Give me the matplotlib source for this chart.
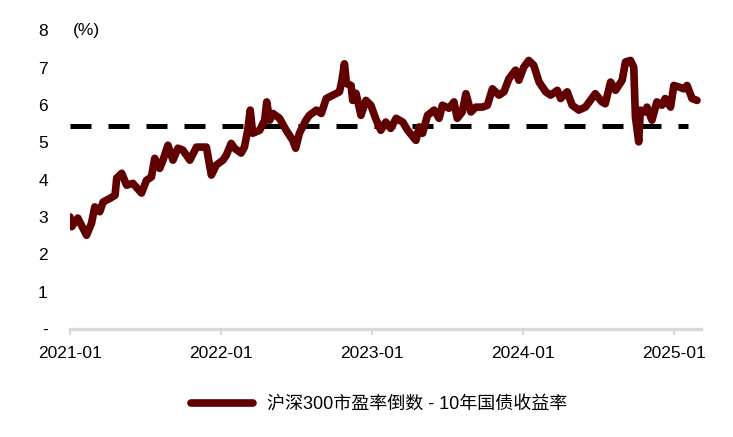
import matplotlib
matplotlib.use('Agg')
import matplotlib.pyplot as plt
import matplotlib.dates as mdates
import numpy as np
import pandas as pd

plt.rcParams['font.family'] = ['Liberation Sans', 'Noto Sans CJK SC', 'DejaVu Sans']

# 沪深300市盈率倒数 - 10年国债收益率 (%)
dates = pd.to_datetime([
    '2021-01-01', '2021-01-05', '2021-01-20', '2021-02-10', '2021-02-22', '2021-03-02',
    '2021-03-14', '2021-03-22', '2021-04-08', '2021-04-20', '2021-04-24', '2021-05-06',
    '2021-05-18', '2021-06-02', '2021-06-23', '2021-07-05', '2021-07-17', '2021-07-25',
    '2021-08-06', '2021-08-14', '2021-08-26', '2021-09-07', '2021-09-19', '2021-10-01',
    '2021-10-18', '2021-11-03', '2021-11-27', '2021-12-09', '2021-12-21', '2022-01-06',
    '2022-01-14', '2022-01-26', '2022-02-03', '2022-02-19', '2022-02-27', '2022-03-07',
    '2022-03-13', '2022-03-19', '2022-04-05', '2022-04-17', '2022-04-22', '2022-04-29',
    '2022-05-07', '2022-05-23', '2022-06-08', '2022-06-24', '2022-07-01', '2022-07-10',
    '2022-07-26', '2022-08-03', '2022-08-20', '2022-09-01', '2022-09-13', '2022-09-29',
    '2022-10-15', '2022-10-21', '2022-10-27', '2022-11-01', '2022-11-12', '2022-11-16',
    '2022-11-24', '2022-12-06', '2022-12-18', '2022-12-30', '2023-01-11', '2023-01-23',
    '2023-02-04', '2023-02-16', '2023-03-01', '2023-03-17', '2023-03-29', '2023-04-18',
    '2023-04-26', '2023-05-04', '2023-05-16', '2023-06-01', '2023-06-13', '2023-06-21',
    '2023-07-07', '2023-07-19', '2023-07-27', '2023-08-08', '2023-08-17', '2023-08-29',
    '2023-09-10', '2023-09-26', '2023-10-08', '2023-10-20', '2023-11-05', '2023-11-17',
    '2023-11-29', '2023-12-15', '2023-12-23', '2024-01-04', '2024-01-16', '2024-01-28',
    '2024-02-10', '2024-02-26', '2024-03-09', '2024-03-25', '2024-04-02', '2024-04-18',
    '2024-04-30', '2024-05-16', '2024-06-01', '2024-06-25', '2024-07-11', '2024-07-19',
    '2024-08-01', '2024-08-13', '2024-08-29', '2024-09-06', '2024-09-18', '2024-09-26',
    '2024-09-30', '2024-10-08', '2024-10-12', '2024-10-24', '2024-10-28', '2024-11-09',
    '2024-11-21', '2024-12-03', '2024-12-11', '2024-12-24', '2025-01-01', '2025-01-13',
    '2025-01-25', '2025-02-02', '2025-02-14', '2025-02-26'])
spread = [
    3.00, 2.74, 2.97, 2.51, 2.83, 3.27, 3.14, 3.40, 3.50, 3.58, 4.04, 4.17,
    3.85, 3.90, 3.64, 3.98, 4.07, 4.57, 4.30, 4.52, 4.92, 4.52, 4.84, 4.79,
    4.52, 4.87, 4.87, 4.12, 4.39, 4.52, 4.65, 4.97, 4.84, 4.71, 4.87, 5.32,
    5.86, 5.24, 5.32, 5.59, 6.08, 5.59, 5.77, 5.64, 5.32, 5.05, 4.84, 5.24,
    5.59, 5.72, 5.86, 5.77, 6.17, 6.26, 6.35, 6.66, 7.10, 6.57, 6.52, 6.12,
    6.31, 5.72, 6.12, 5.99, 5.62, 5.32, 5.54, 5.37, 5.64, 5.54, 5.32, 5.05,
    5.41, 5.24, 5.72, 5.86, 5.64, 5.99, 5.91, 6.08, 5.64, 5.81, 6.30, 5.81,
    5.94, 5.94, 5.99, 6.43, 6.26, 6.35, 6.70, 6.93, 6.66, 7.01, 7.19, 7.06,
    6.61, 6.35, 6.26, 6.39, 6.17, 6.35, 5.99, 5.86, 5.94, 6.30, 6.08, 6.03,
    6.61, 6.39, 6.66, 7.15, 7.19, 7.01, 5.68, 5.01, 5.86, 5.81, 5.94, 5.59,
    6.08, 5.99, 6.17, 5.94, 6.52, 6.48, 6.43, 6.52, 6.17, 6.12]
mean_level = 5.43

yticks = [0, 1, 2, 3, 4, 5, 6, 7, 8]
ytick_labels = ['-', '1', '2', '3', '4', '5', '6', '7', '8']
xtick_dates = pd.to_datetime(['2021-01-01', '2022-01-01', '2023-01-01', '2024-01-01', '2025-01-01'])
legend_label = '沪深300市盈率倒数 - 10年国债收益率'

fig = plt.figure(figsize=(7.33, 4.37), dpi=100)
ax = fig.add_axes([0.0955, 0.247, 0.861, 0.684])

ax.plot(dates, spread, color='#600000', lw=5.5, solid_joinstyle='round',
        solid_capstyle='round', label=legend_label, zorder=3)
ax.plot([dates[0], pd.Timestamp('2025-02-04')], [mean_level, mean_level],
        color='black', lw=3.6, dashes=(4.2, 3.4), zorder=2)

ax.set_ylim(0, 8)
ax.set_xlim(pd.Timestamp('2021-01-01'), pd.Timestamp('2025-03-08'))
ax.set_yticks(yticks)
ax.set_yticklabels(ytick_labels)
ax.set_xticks(xtick_dates)
ax.xaxis.set_major_formatter(mdates.DateFormatter('%Y-%m'))

for s in ['top', 'right', 'left']:
    ax.spines[s].set_visible(False)
ax.spines['bottom'].set_color('#d9d9d9')
ax.spines['bottom'].set_linewidth(2.4)

ax.tick_params(axis='y', length=0, pad=16, labelsize=12.5)
ax.tick_params(axis='x', length=4, width=1.5, color='#d9d9d9', pad=8, labelsize=12.5)

ax.annotate('(%)', xy=(0.005, 8), xycoords=('axes fraction', 'data'),
            ha='left', va='center', fontsize=12.5)

leg = ax.legend(loc='upper center', bbox_to_anchor=(0.49, -0.17), frameon=False,
                handlelength=3.4, fontsize=13)

fig.savefig('out.png', dpi=100)
